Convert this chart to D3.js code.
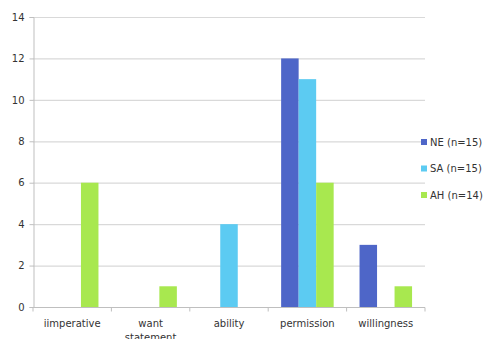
<!DOCTYPE html>
<html><head><meta charset="utf-8">
<script src="https://cdn.jsdelivr.net/npm/d3@7"></script>
<style>body{margin:0;background:#fff}svg{display:block}</style>
</head><body>
<svg id="c" width="483" height="339"></svg>
<script>
const categories = ["iimperative", "want statement", "ability", "permission", "willingness"];
const seriesNames = ["NE (n=15)", "SA (n=15)", "AH (n=14)"];
const seriesColors = ["#4e66c8", "#5ccbf2", "#a8e84f"];
const NE = [0, 0, 0, 12, 3];
const SA = [0, 0, 4, 11, 0];
const AH = [6, 1, 0, 6, 1];
const yTicks = [0, 2, 4, 6, 8, 10, 12, 14];

const svg = d3.select("#c");
const m = {l: 33, r: 58, t: 17, b: 32};
const W = 483, H = 339;
const x0 = d3.scaleBand().domain(categories).range([m.l, W - m.r]).paddingInner(0.33).paddingOuter(0.165);
const x1 = d3.scaleBand().domain(seriesNames).range([0, x0.bandwidth()]);
const y = d3.scaleLinear().domain([0, 14]).range([H - m.b, m.t]);
const font = "'DejaVu Sans', Verdana, sans-serif";

// gridlines
svg.append("g").selectAll("line").data(yTicks.filter(d => d > 0)).join("line")
  .attr("x1", m.l).attr("x2", W - m.r)
  .attr("y1", d => y(d) + 0.5).attr("y2", d => y(d) + 0.5)
  .attr("stroke", "#d9d9d9").attr("stroke-width", 1.2);

// y axis
const ya = svg.append("g").attr("transform", `translate(${m.l + 0.5},0)`)
  .call(d3.axisLeft(y).tickValues(yTicks).tickSize(4).tickPadding(5));
ya.select(".domain").attr("stroke", "#bfbfbf");
ya.selectAll(".tick line").attr("stroke", "#bfbfbf");
ya.selectAll("text").attr("font-family", font).attr("font-size", 10).attr("fill", "#333");

// x axis with ticks at category boundaries
const xa = svg.append("g").attr("transform", `translate(0,${y(0) + 0.5})`);
xa.append("line").attr("x1", m.l).attr("x2", W - m.r).attr("stroke", "#bfbfbf").attr("stroke-width", 1.2);
const step = x0.step();
const bounds = d3.range(categories.length + 1).map(i => m.l + i * step);
xa.selectAll("line.tk").data(bounds).join("line").attr("class", "tk")
  .attr("x1", d => d).attr("x2", d => d).attr("y1", 0).attr("y2", 4).attr("stroke", "#bfbfbf");
const labels = xa.selectAll("text").data(categories).join("text")
  .attr("text-anchor", "middle")
  .attr("font-family", font).attr("font-size", 10).attr("fill", "#333")
  .attr("transform", d => `translate(${x0(d) + x0.bandwidth() / 2},19)`);
labels.each(function(d) {
  const parts = d === "want statement" ? ["want", "statement"] : [d];
  d3.select(this).selectAll("tspan").data(parts).join("tspan")
    .attr("x", 0).attr("dy", (p, i) => i === 0 ? 0 : 14).text(p => p);
});

// bars
const series = [NE, SA, AH];
const rows = categories.map((c, i) => ({c, vals: seriesNames.map((s, k) => ({s, k, v: series[k][i]}))}));
svg.append("g").selectAll("g").data(rows).join("g")
  .attr("transform", d => `translate(${x0(d.c)},0)`)
  .selectAll("rect").data(d => d.vals.filter(e => e.v > 0)).join("rect")
  .attr("x", d => x1(d.s)).attr("width", x1.bandwidth())
  .attr("y", d => y(d.v)).attr("height", d => y(0) - y(d.v))
  .attr("fill", d => seriesColors[d.k]);

// legend
const lg = svg.append("g").attr("transform", "translate(421,142)");
const li = lg.selectAll("g").data(seriesNames).join("g")
  .attr("transform", (d, i) => `translate(0,${i * 26.5})`);
li.append("rect").attr("x", 0).attr("y", -3).attr("width", 6).attr("height", 6)
  .attr("fill", (d, i) => seriesColors[i]);
li.append("text").attr("x", 9).attr("y", 0).attr("dy", "0.35em")
  .attr("font-family", font).attr("font-size", 10).attr("fill", "#333").text(d => d);
</script>
</body></html>
